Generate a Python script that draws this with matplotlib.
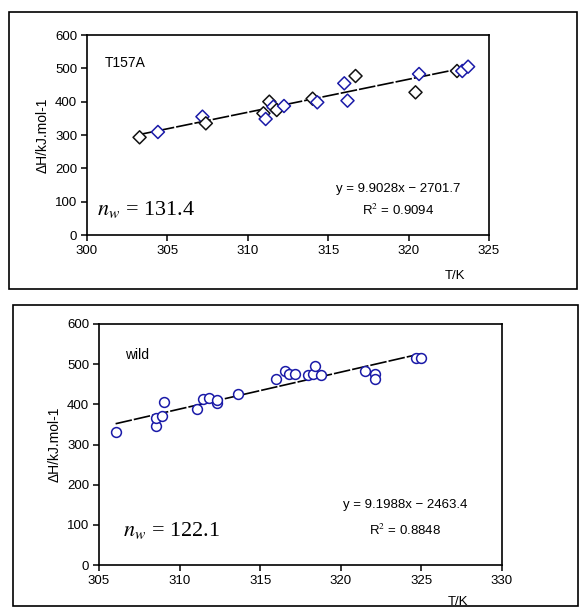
import numpy as np
import matplotlib
matplotlib.use("Agg")
import matplotlib.pyplot as plt
from matplotlib.patches import Rectangle

plt.rcParams["font.family"] = ["Liberation Sans", "DejaVu Sans"]
plt.rcParams["mathtext.fontset"] = "stix"

# T157A (top panel)
t_mut = [303.27, 304.41, 307.18, 307.39, 310.97, 311.11, 311.34, 311.59, 311.80, 312.25,
         314.03, 314.32, 316.00, 316.20, 316.70, 320.43, 320.65, 323.01, 323.34, 323.70]
dh_mut = [293, 309, 355, 335, 365, 348, 400, 385, 375, 387,
          409, 398, 455, 403, 477, 428, 483, 492, 492, 505]
blue_mut = [0, 1, 1, 0, 0, 1, 0, 1, 0, 1, 0, 1, 1, 1, 0, 0, 1, 0, 1, 1]
fit_mut = (9.9028, -2701.7, 0.9094)
nw_mut = 131.4

# wild type (bottom panel)
t_wild = [306.03, 308.53, 308.53, 308.93, 309.03, 311.05, 311.47, 311.84, 312.29, 312.33,
          313.60, 315.97, 316.53, 316.76, 317.17, 317.98, 318.29, 318.39, 318.80, 321.53,
          322.11, 322.15, 324.69, 325.00]
dh_wild = [332, 347, 366, 371, 407, 388, 413, 417, 403, 411,
           425, 464, 484, 476, 476, 474, 476, 496, 474, 482,
           476, 463, 515, 515]
fit_wild = (9.1988, -2463.4, 0.8848)
nw_wild = 122.1

W, H = 583, 612
fig = plt.figure(figsize=(W / 100, H / 100), dpi=100)


def frac(x0, y0, x1, y1):
    return [x0 / W, 1 - y1 / H, (x1 - x0) / W, (y1 - y0) / H]


# outer panel frames
for box in [frac(9, 12, 577, 289), frac(13, 305, 578, 606)]:
    fig.patches.append(Rectangle((box[0], box[1]), box[2], box[3], transform=fig.transFigure,
                                 fill=False, edgecolor="black", linewidth=1.2))


def panel(rect, t, dh, fit, nw, xlim, label, marker, colors, txt_pos):
    ax = fig.add_axes(rect)
    slope, icpt, r2 = fit
    xs = np.array([min(t), max(t)])
    ax.plot(xs, slope * xs + icpt, color="black", lw=1.2, dashes=(10, 1.2), zorder=2)
    ax.scatter(t, dh, marker=marker, s=44 if marker == "D" else 50, facecolors="white",
               edgecolors=colors, linewidths=1.1, zorder=3)
    ax.set_xlim(*xlim)
    ax.set_ylim(0, 600)
    ax.set_xticks(np.arange(xlim[0], xlim[1] + 1, 5))
    ax.set_yticks(np.arange(0, 601, 100))
    ax.tick_params(direction="out", length=4, width=1.1, labelsize=9.5, pad=3)
    for s in ax.spines.values():
        s.set_linewidth(1.2)
    ax.set_ylabel("ΔH/kJ.mol-1", fontsize=10, labelpad=4)
    ax.text(label[1], label[2], label[0], transform=ax.transAxes, fontsize=10, va="center")
    ax.text(txt_pos[0], txt_pos[1], f"y = {slope:.4f}x − {abs(icpt):.1f}",
            transform=ax.transAxes, fontsize=9.5, ha="center", va="center")
    ax.text(txt_pos[0], txt_pos[1] - 0.105, f"R$^2$ = {r2:.4f}",
            transform=ax.transAxes, fontsize=9.5, ha="center", va="center")
    ax.text(txt_pos[2], txt_pos[3], r"$\mathit{n}_{\mathit{w}}$" + f" = {nw}",
            transform=ax.transAxes, fontsize=16, family="Liberation Serif", va="center")
    return ax


cols_mut = ["#1a1aa8" if b else "#111111" for b in blue_mut]
ax1 = panel(frac(87, 35, 489, 235), t_mut, dh_mut, fit_mut, nw_mut, (300, 325),
            ("T157A", 0.045, 0.86), "D", cols_mut, (0.775, 0.23, 0.025, 0.125))
fig.text(455 / W, 1 - 276 / H, "T/K", fontsize=9.5, ha="center", va="center")

ax2 = panel(frac(99, 324, 502, 565), t_wild, dh_wild, fit_wild, nw_wild, (305, 330),
            ("wild", 0.065, 0.87), "o", "#1a1aa8", (0.76, 0.25, 0.06, 0.145))
fig.text(458 / W, 1 - 602 / H, "T/K", fontsize=9.5, ha="center", va="center")

fig.savefig("out.png", dpi=100)
